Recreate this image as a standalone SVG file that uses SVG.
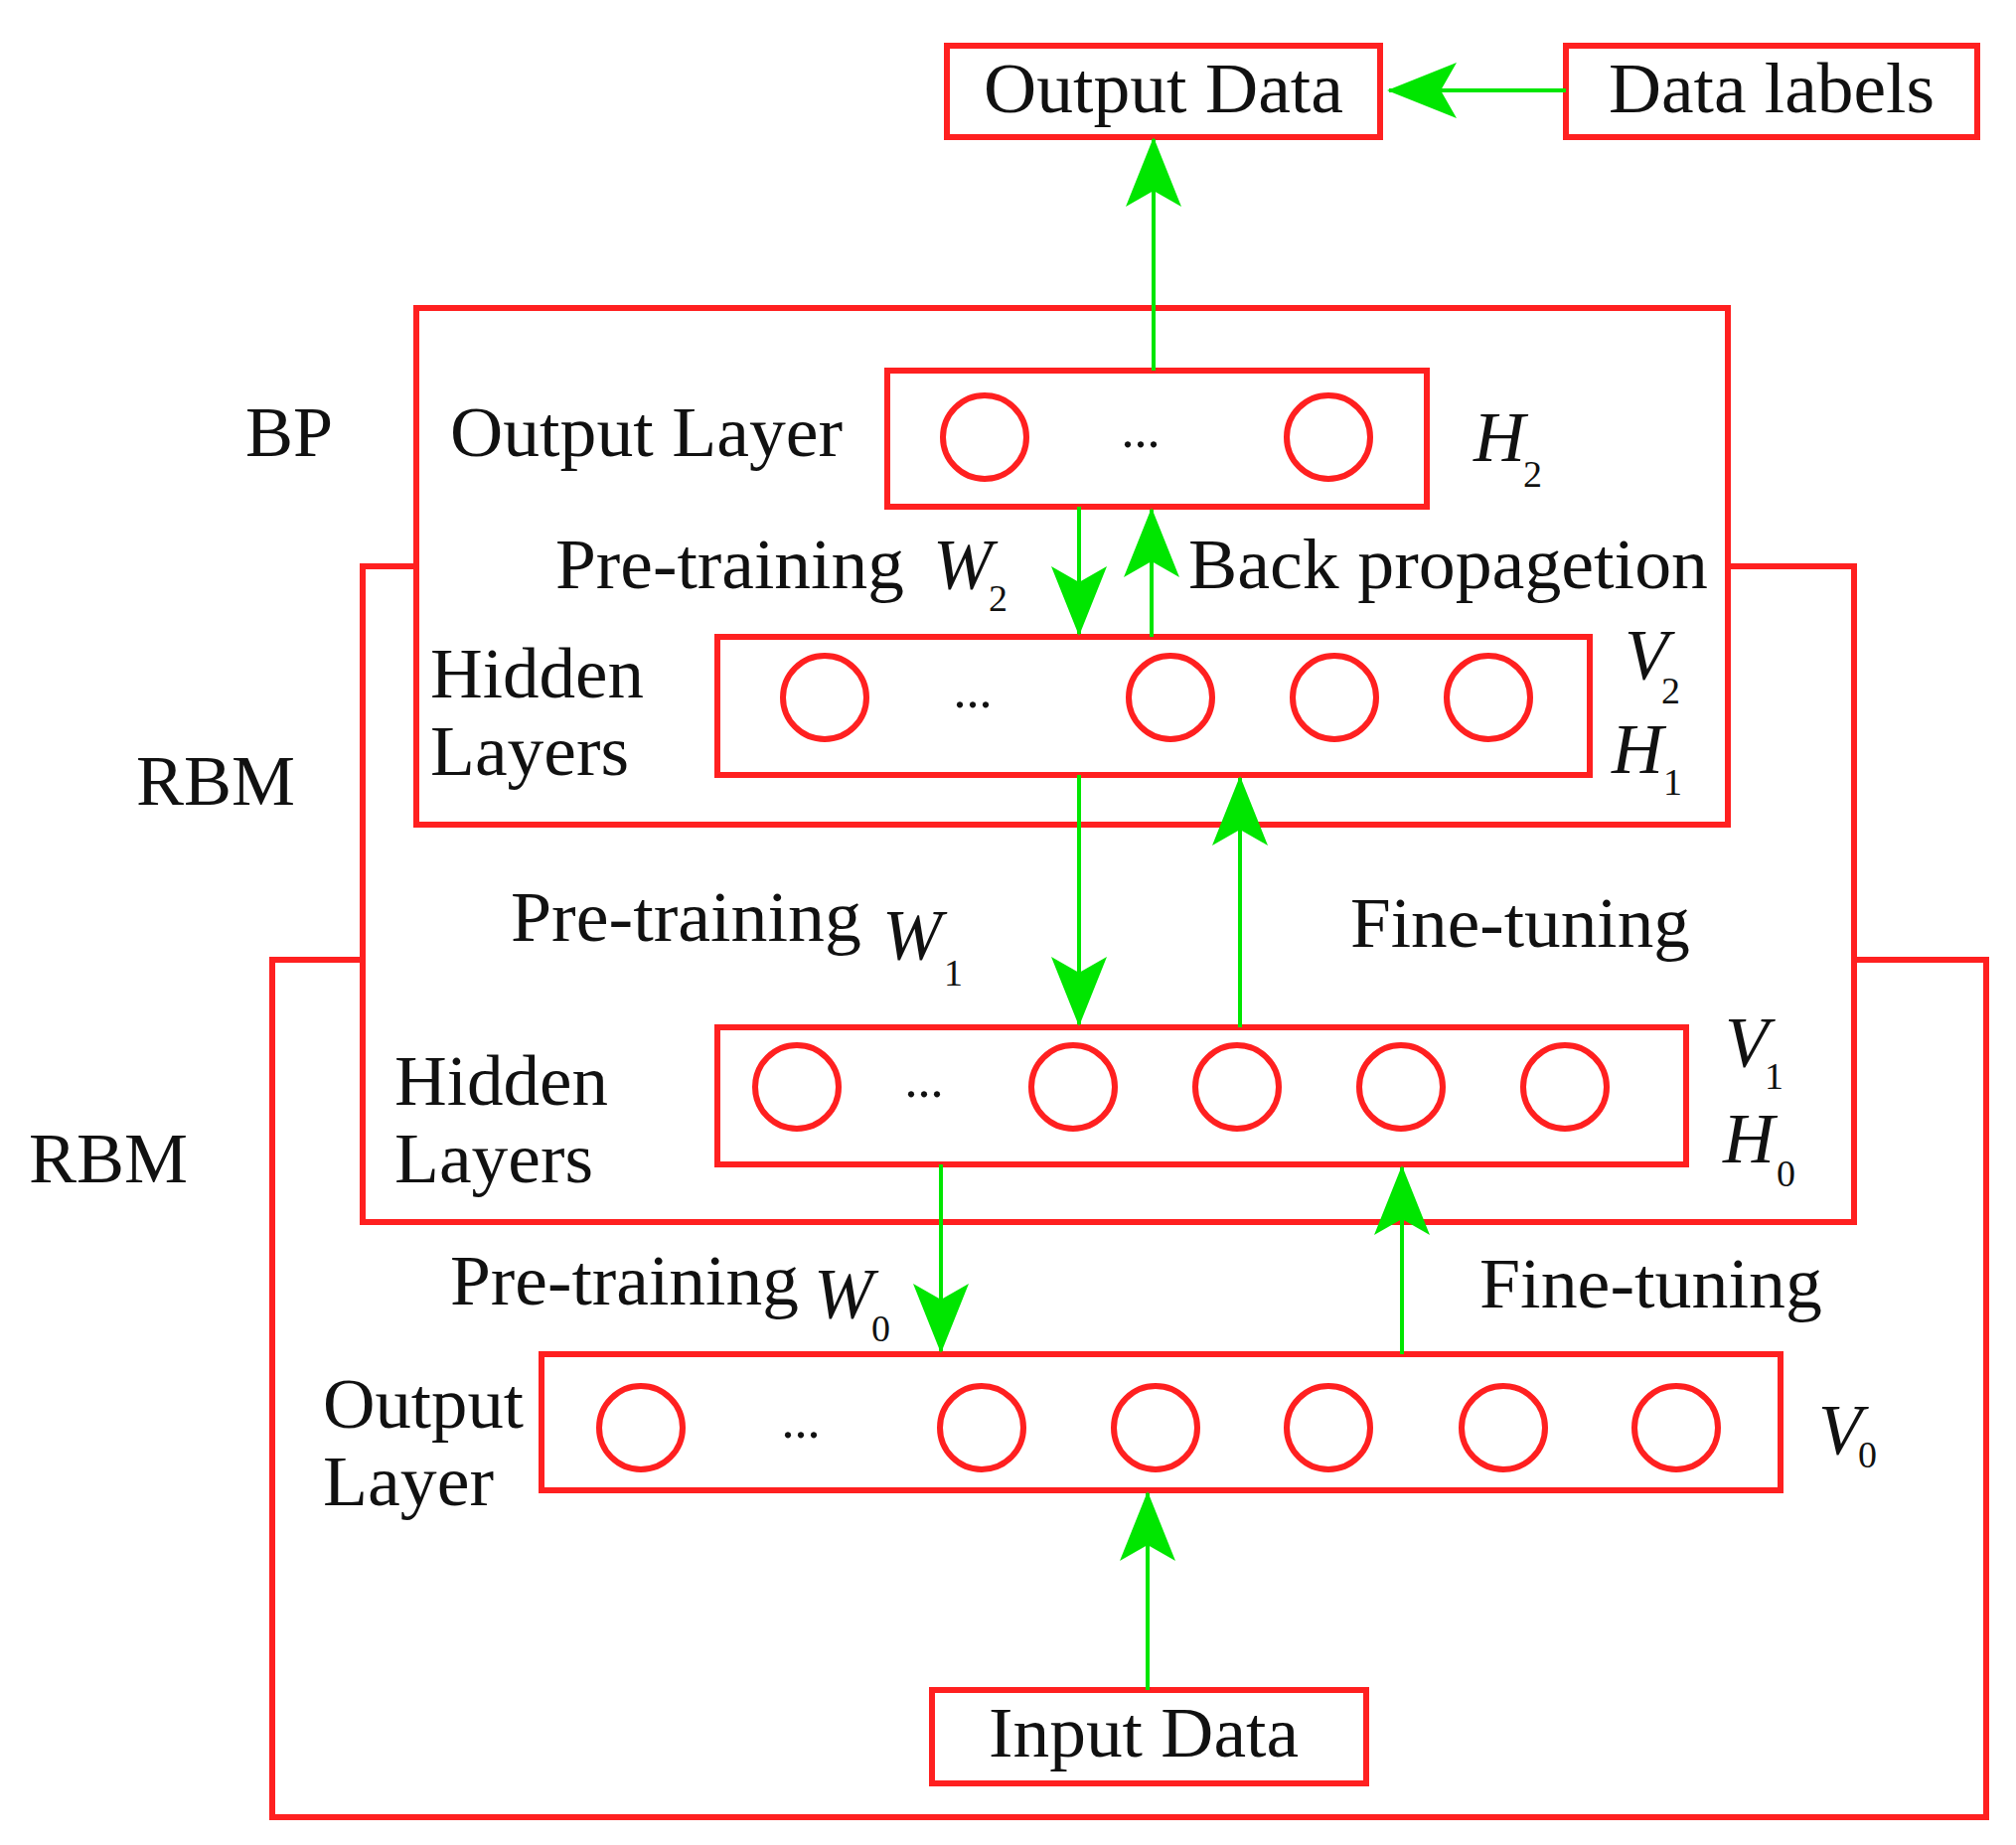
<svg xmlns="http://www.w3.org/2000/svg" width="2029" height="1857" viewBox="0 0 2029 1857">
<style>
.b{fill:#fff;stroke:#ff2020;stroke-width:6}
.n{fill:none;stroke:#ff2020;stroke-width:6}
.c{stroke:#00e600;stroke-width:4;fill:none;marker-end:url(#ah)}
text{font-family:"Liberation Serif","Times New Roman",serif;font-size:72px;fill:#111}
.i{font-style:italic}
.s{font-size:38px}
.d{font-size:52px}
</style>
<defs>
<marker id="ah" markerUnits="userSpaceOnUse" viewBox="0 0 70 60" refX="68" refY="30" markerWidth="70" markerHeight="60" orient="auto">
<path d="M0,2 L70,30 L0,58 L16,30 Z" fill="#00e600"/>
</marker>
</defs>
<rect width="2029" height="1857" fill="#fff"/>
<g id="rbm-outer"><rect class="b" x="274" y="966" width="1725" height="863"/><text x="29" y="1190">RBM</text></g>
<g id="rbm-middle"><rect class="b" x="365" y="570" width="1501" height="660"/><text x="137" y="810">RBM</text></g>
<g id="bp"><rect class="b" x="419" y="310" width="1320" height="520"/><text x="247" y="459">BP</text></g>
<g id="output-data"><rect class="b" x="953" y="46" width="436" height="92"/><text x="990" y="113" textLength="362" lengthAdjust="spacingAndGlyphs">Output Data</text></g>
<g id="data-labels"><rect class="b" x="1576" y="46" width="414" height="92"/><text x="1619" y="113" textLength="328" lengthAdjust="spacingAndGlyphs">Data labels</text></g>
<g id="h2-layer">
<rect class="n" x="893" y="373" width="543" height="137"/>
<ellipse class="n" cx="991" cy="440" rx="42" ry="42"/><ellipse class="n" cx="1337" cy="440" rx="42" ry="42"/>
<text class="d" x="1148" y="450" text-anchor="middle">...</text>
<text x="453" y="459" textLength="395" lengthAdjust="spacingAndGlyphs">Output Layer</text>
<text class="i" x="1483" y="464">H</text><text class="s" x="1533" y="490">2</text>
</g>
<g id="v2-layer">
<rect class="n" x="722" y="641" width="878" height="139"/>
<ellipse class="n" cx="830" cy="702" rx="42" ry="42"/><ellipse class="n" cx="1178" cy="702" rx="42" ry="42"/><ellipse class="n" cx="1343" cy="702" rx="42" ry="42"/><ellipse class="n" cx="1498" cy="702" rx="42" ry="42"/>
<text class="d" x="979" y="712" text-anchor="middle">...</text>
<text x="433" y="702" textLength="215" lengthAdjust="spacingAndGlyphs">Hidden</text>
<text x="433" y="780" textLength="200" lengthAdjust="spacingAndGlyphs">Layers</text>
<text class="i" x="1635" y="683">V</text><text class="s" x="1672" y="708">2</text>
<text class="i" x="1622" y="778">H</text><text class="s" x="1674" y="800">1</text>
</g>
<g id="v1-layer">
<rect class="n" x="722" y="1034" width="975" height="138"/>
<ellipse class="n" cx="802" cy="1094" rx="42" ry="42"/><ellipse class="n" cx="1080" cy="1094" rx="42" ry="42"/><ellipse class="n" cx="1245" cy="1094" rx="42" ry="42"/><ellipse class="n" cx="1410" cy="1094" rx="42" ry="42"/><ellipse class="n" cx="1575" cy="1094" rx="42" ry="42"/>
<text class="d" x="930" y="1104" text-anchor="middle">...</text>
<text x="397" y="1112" textLength="215" lengthAdjust="spacingAndGlyphs">Hidden</text>
<text x="397" y="1190" textLength="200" lengthAdjust="spacingAndGlyphs">Layers</text>
<text class="i" x="1736" y="1073">V</text><text class="s" x="1776" y="1096">1</text>
<text class="i" x="1734" y="1170">H</text><text class="s" x="1788" y="1194">0</text>
</g>
<g id="v0-layer">
<rect class="n" x="545" y="1363" width="1247" height="137"/>
<ellipse class="n" cx="645" cy="1437" rx="42" ry="42"/><ellipse class="n" cx="988" cy="1437" rx="42" ry="42"/><ellipse class="n" cx="1163" cy="1437" rx="42" ry="42"/><ellipse class="n" cx="1337" cy="1437" rx="42" ry="42"/><ellipse class="n" cx="1513" cy="1437" rx="42" ry="42"/><ellipse class="n" cx="1687" cy="1437" rx="42" ry="42"/>
<text class="d" x="806" y="1447" text-anchor="middle">...</text>
<text x="325" y="1437" textLength="202" lengthAdjust="spacingAndGlyphs">Output</text>
<text x="325" y="1515" textLength="172" lengthAdjust="spacingAndGlyphs">Layer</text>
<text class="i" x="1830" y="1463">V</text><text class="s" x="1870" y="1477">0</text>
</g>
<g id="input-data"><rect class="b" x="938" y="1701" width="437" height="94"/><text x="995" y="1768" textLength="312" lengthAdjust="spacingAndGlyphs">Input Data</text></g>
<g id="labels">
<text x="559" y="592" textLength="351" lengthAdjust="spacingAndGlyphs">Pre-training</text>
<text class="i" x="939" y="592">W</text><text class="s" x="995" y="615">2</text>
<text x="1196" y="592" textLength="523" lengthAdjust="spacingAndGlyphs">Back propagetion</text>
<text x="514" y="947" textLength="353" lengthAdjust="spacingAndGlyphs">Pre-training</text>
<text class="i" x="888" y="965">W</text><text class="s" x="950" y="992">1</text>
<text x="1359" y="953" textLength="342" lengthAdjust="spacingAndGlyphs">Fine-tuning</text>
<text x="453" y="1313" textLength="351" lengthAdjust="spacingAndGlyphs">Pre-training</text>
<text class="i" x="819" y="1326">W</text><text class="s" x="877" y="1350">0</text>
<text x="1489" y="1316" textLength="345" lengthAdjust="spacingAndGlyphs">Fine-tuning</text>
</g>
<g id="connectors">
<line class="c" x1="1576" y1="91" x2="1398" y2="91"/>
<line class="c" x1="1161" y1="373" x2="1161" y2="140"/>
<line class="c" x1="1086" y1="510" x2="1086" y2="638"/>
<line class="c" x1="1159" y1="641" x2="1159" y2="513"/>
<line class="c" x1="1086" y1="780" x2="1086" y2="1031"/>
<line class="c" x1="1248" y1="1034" x2="1248" y2="783"/>
<line class="c" x1="947" y1="1172" x2="947" y2="1360"/>
<line class="c" x1="1411" y1="1363" x2="1411" y2="1175"/>
<line class="c" x1="1155" y1="1701" x2="1155" y2="1503"/>
</g>
</svg>
